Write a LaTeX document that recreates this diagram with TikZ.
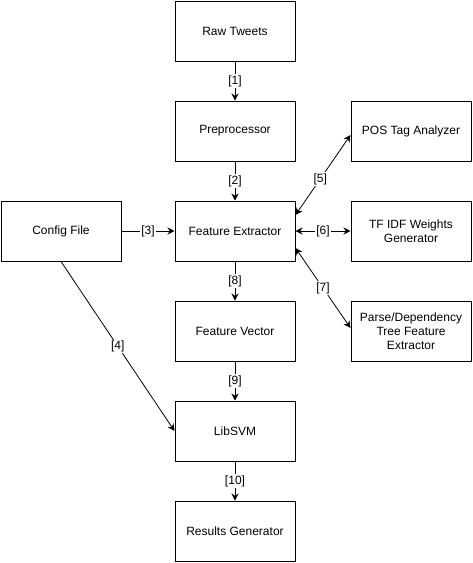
\documentclass[tikz,border=0pt]{standalone}
\usepackage{fontspec}
\setmainfont{Liberation Sans}
\usetikzlibrary{arrows.meta}

\begin{document}
\begin{tikzpicture}[x=1pt,y=-1pt,semithick,font=\fontsize{12}{14}\selectfont]
        \tikzstyle{stagenode}=[
            rectangle,
            draw=black,
            line width=1pt,
            minimum width=120pt,
            minimum height=60pt,
            align=center,
            text=black
        ]
        \tikzstyle{flow}=[
            -{Stealth[length=7pt,width=7pt]},
            line width=0.8pt
        ]
        \tikzstyle{bothflow}=[
            {Stealth[length=7pt,width=7pt]}-{Stealth[length=7pt,width=7pt]},
            line width=0.8pt
        ]
        \tikzstyle{flowlabel}=[
            fill=white,
            inner sep=1pt
        ]

        \useasboundingbox (0,0) rectangle (473,563);

        \node[stagenode] (raw) at (235,31){Raw Tweets};
        \node[stagenode] (pre) at (235,131){Preprocessor};
        \node[stagenode] (fex) at (235,231){Feature Extractor};
        \node[stagenode] (fvec) at (235,331){Feature Vector};
        \node[stagenode] (svm) at (235,431){LibSVM};
        \node[stagenode] (res) at (235,531){Results Generator};
        \node[stagenode] (cfg) at (61,231){Config File};
        \node[stagenode] (pos) at (411,131){POS Tag Analyzer};
        \node[stagenode] (tfidf) at (411,231){TF IDF Weights\\Generator};
        \node[stagenode] (parse) at (411,331){Parse/Dependency\\Tree Feature\\Extractor};

        \draw[flow] (raw) -- node[flowlabel]{[1]} (pre);
        \draw[flow] (pre) -- node[flowlabel]{[2]} (fex);
        \draw[flow] (cfg) -- node[flowlabel]{[3]} (fex);
        \draw[flow] (cfg.south) -- node[flowlabel]{[4]} (svm.west);
        \draw[bothflow] ([yshift=16pt]fex.east) -- node[flowlabel,pos=0.45]{[5]} ([yshift=-4pt]pos.west);
        \draw[bothflow] (fex) -- node[flowlabel]{[6]} (tfidf);
        \draw[bothflow] ([yshift=-17pt]fex.east) -- node[flowlabel]{[7]} ([yshift=3pt]parse.west);
        \draw[flow] (fex) -- node[flowlabel]{[8]} (fvec);
        \draw[flow] (fvec) -- node[flowlabel]{[9]} (svm);
        \draw[flow] (svm) -- node[flowlabel]{[10]} (res);

    \end{tikzpicture}
\end{document}
